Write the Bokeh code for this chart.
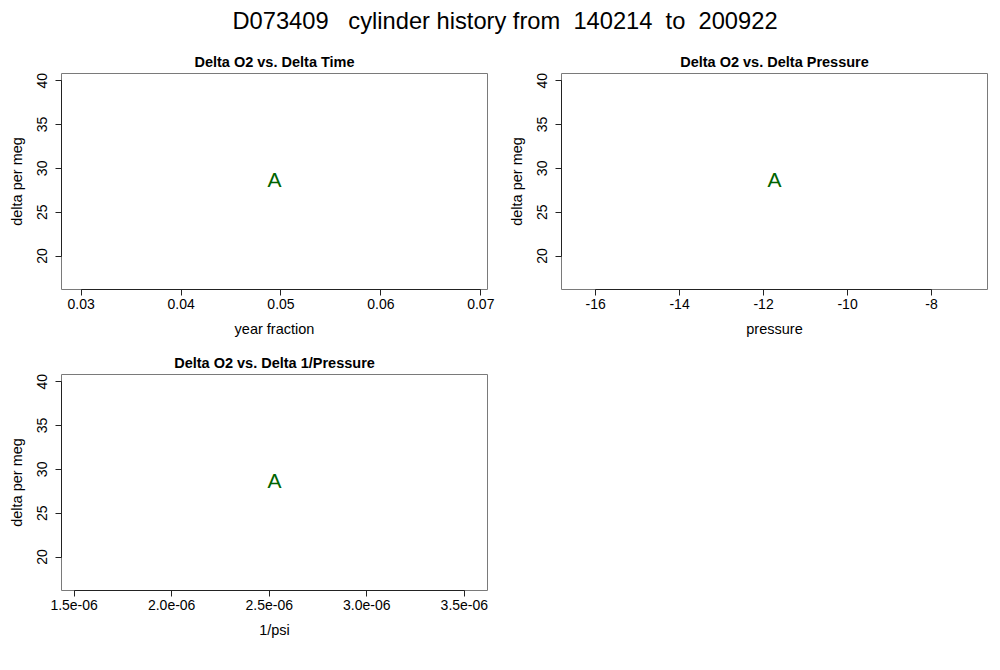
from bokeh.plotting import figure
from bokeh.layouts import column, row
from bokeh.models import Div, Range1d, FixedTicker, CustomJSTickFormatter
from bokeh.core.properties import value
from bokeh.embed import file_html
from bokeh.resources import INLINE

# ---- data ----
main_title = "D073409   cylinder history from  140214  to  200922"
panel_titles = ["Delta O2 vs. Delta Time", "Delta O2 vs. Delta Pressure", "Delta O2 vs. Delta 1/Pressure"]
x_axis_labels = ["year fraction", "pressure", "1/psi"]
y_axis_label = "delta per meg"
point_labels = ["A"]

delta_time = [0.04935]
delta_pressure = [-11.74]
delta_inv_pressure = [2.527e-06]
delta_o2 = [28.5]

time_ticks = [0.03, 0.04, 0.05, 0.06, 0.07]
time_tick_labels = ["0.03", "0.04", "0.05", "0.06", "0.07"]
pressure_ticks = [-16, -14, -12, -10, -8]
pressure_tick_labels = ["-16", "-14", "-12", "-10", "-8"]
inv_pressure_ticks = [1.5e-06, 2.0e-06, 2.5e-06, 3.0e-06, 3.5e-06]
inv_pressure_tick_labels = ["1.5e-06", "2.0e-06", "2.5e-06", "3.0e-06", "3.5e-06"]
o2_ticks = [20, 25, 30, 35, 40]
o2_tick_labels = ["20", "25", "30", "35", "40"]

FONT = "Liberation Sans"
POINT_COLOR = "#006400"


def r_range(vals):
    lo, hi = min(vals), max(vals)
    if lo == hi:
        if lo == 0:
            lo, hi = -1.0, 1.0
        else:
            lo, hi = sorted([0.6 * lo, 1.4 * lo])
    d = hi - lo
    return lo - 0.04 * d, hi + 0.04 * d


def fmt(ticks, labels):
    return CustomJSTickFormatter(args=dict(vals=ticks, labs=labels), code="""
        let best = 0, bd = Infinity;
        for (let i = 0; i < vals.length; i++) {
            const d = Math.abs(vals[i] - tick);
            if (d < bd) { bd = d; best = i; }
        }
        return labs[best];
    """)


def panel(xs, ys, title, xlabel, xticks, xlabels, mb_left, mb_right, mb_top, mb_bottom):
    x0, x1 = r_range(xs)
    y0, y1 = r_range(ys)
    p = figure(frame_width=426, frame_height=216,
               x_range=Range1d(x0, x1), y_range=Range1d(y0, y1),
               min_border_left=mb_left, min_border_right=mb_right,
               min_border_top=mb_top, min_border_bottom=mb_bottom,
               output_backend="svg", toolbar_location=None,
               background_fill_color="white", border_fill_color="white")
    p.xgrid.visible = False
    p.ygrid.visible = False
    p.outline_line_color = "#7a7a7a"
    p.outline_line_width = 1

    p.title.text = title
    p.title.align = "center"
    p.title.text_font = FONT
    p.title.text_font_size = "14.5px"
    p.title.text_font_style = "bold"
    p.title.text_color = "black"
    p.title.standoff = 7

    for ax, ticks, labels, lab in ((p.xaxis[0], xticks, xlabels, xlabel),
                                   (p.yaxis[0], o2_ticks, o2_tick_labels, y_axis_label)):
        ax.ticker = FixedTicker(ticks=ticks)
        ax.formatter = fmt(ticks, labels)
        ax.bounds = (min(ticks), max(ticks))
        ax.minor_tick_line_color = None
        ax.major_tick_out = 6
        ax.major_tick_in = 0
        ax.axis_line_color = "#222222"
        ax.major_tick_line_color = "#222222"
        ax.major_label_text_font = FONT
        ax.major_label_text_font_size = "14px"
        ax.major_label_text_color = "black"
        ax.axis_label = lab
        ax.axis_label_text_font = FONT
        ax.axis_label_text_font_size = "14.5px"
        ax.axis_label_text_font_style = "normal"
        ax.axis_label_text_color = "black"
    p.xaxis[0].major_label_standoff = 3
    p.xaxis[0].axis_label_standoff = 9
    p.yaxis[0].major_label_orientation = "vertical"
    p.yaxis[0].major_label_standoff = 8
    p.yaxis[0].axis_label_standoff = 10

    p.text(x=xs, y=ys, text=point_labels, text_color=POINT_COLOR,
           text_font=value(FONT), text_font_size="21px",
           text_align="center", text_baseline="middle", y_offset=-2)
    return p


p1 = panel(delta_time, delta_o2, panel_titles[0], x_axis_labels[0],
           time_ticks, time_tick_labels, 61, 13, 25, 59)
p2 = panel(delta_pressure, delta_o2, panel_titles[1], x_axis_labels[1],
           pressure_ticks, pressure_tick_labels, 61, 13, 25, 59)
p3 = panel(delta_inv_pressure, delta_o2, panel_titles[2], x_axis_labels[2],
           inv_pressure_ticks, inv_pressure_tick_labels, 61, 13, 26, 58)

title_div = Div(text=main_title, width=1000, height=38,
                styles={"font-family": FONT, "font-size": "23.7px", "white-space": "pre",
                        "text-align": "center", "color": "black", "line-height": "25px",
                        "padding-top": "4px", "width": "1000px"})

layout = column(title_div, row(p1, p2), row(p3))

with open("out.html", "w") as f:
    f.write(file_html(layout, INLINE))
